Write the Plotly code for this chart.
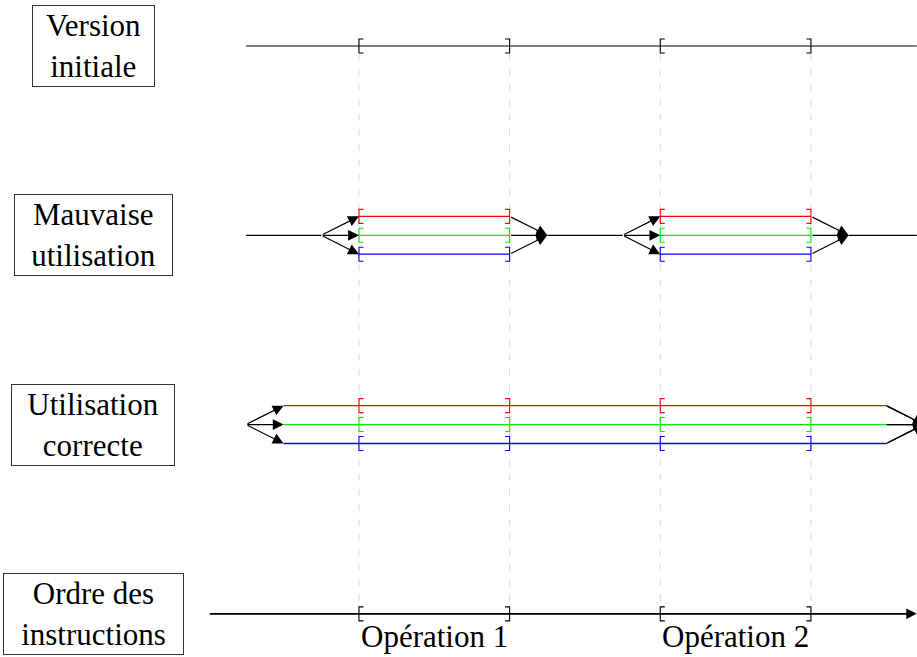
import plotly.graph_objects as go

# ---- data ----
row_labels = ["Version<br>initiale", "Mauvaise<br>utilisation",
              "Utilisation<br>correcte", "Ordre des<br>instructions"]
op_labels = ["Opération 1", "Opération 2"]
op_start = [2, 6]          # time units
op_end = [4, 8]
thread_colors = ["#ff0000", "#00ee00", "#0000ff"]
lane_offsets = [-0.1, 0.0, 0.1]

# ---- layout constants ----
X_RANGE = [-2.765, 9.408]
Y_RANGE = [3.228, -0.243]
LINE_START = 0.5
AXIS_START = 0.0
AXIS_END = 9.405
BR_H = 0.037
BR_W = 0.06
BOX_W = [121, 157, 162, 179]
BOX_H = 80
FONT = "Liberation Serif"

fig = go.Figure()
annotations = []


def seg(xs, ys, color="black", width=1.2, dash=None):
    fig.add_trace(go.Scatter(x=xs, y=ys, mode="lines", hoverinfo="skip",
                             line=dict(color=color, width=width, dash=dash),
                             showlegend=False))


def arrow(x0, y0, x1, y1, width=1.2, size=1.8):
    annotations.append(dict(x=x1, y=y1, ax=x0, ay=y0, xref="x", yref="y",
                            axref="x", ayref="y", text="", showarrow=True,
                            arrowhead=2, arrowsize=size, arrowwidth=width,
                            arrowcolor="black", standoff=0, startstandoff=0))


def bracket(x, y, side, color="black"):
    seg([x + side * BR_W, x, x, x + side * BR_W],
        [y - BR_H, y - BR_H, y + BR_H, y + BR_H], color=color, width=1.1)


def brackets(y, color="black"):
    for s, e in zip(op_start, op_end):
        bracket(s, y, 1, color)
        bracket(e, y, -1, color)


# dashed guides
for s, e in zip(op_start, op_end):
    for xv in (s, e):
        seg([xv, xv], [0 - BR_H, 3], color="#d9d9d9", width=1, dash="7px,8px")

# row 0 : version initiale
seg([LINE_START, AXIS_END], [0, 0])
brackets(0)

# row 1 : mauvaise utilisation
y = 1
seg([LINE_START, op_start[0] - 0.5], [y, y])
for i, (s, e) in enumerate(zip(op_start, op_end)):
    fork = s - 0.5
    join = e + 0.5
    for c, d in zip(thread_colors, lane_offsets):
        arrow(fork, y, s, y + d)
        seg([s, e], [y + d, y + d], color=c)
        arrow(e, y + d, join, y)
        bracket(s, y + d, 1, c)
        bracket(e, y + d, -1, c)
    nxt = op_start[i + 1] - 0.5 if i + 1 < len(op_start) else AXIS_END
    seg([join, nxt], [y, y])

# row 2 : utilisation correcte
y = 2
fork, spread, join, tip = 0.5, 1.0, 9.0, 9.5
for c, d in zip(thread_colors, lane_offsets):
    arrow(fork, y, spread, y + d)
    seg([join, tip], [y + d, y], color="black")
    arrow(join, y + d, tip, y)
for c, d in zip(thread_colors, lane_offsets):
    seg([spread, join], [y + d, y + d], color=c, width=1.3)
    for s, e in zip(op_start, op_end):
        bracket(s, y + d, 1, c)
        bracket(e, y + d, -1, c)

# row 3 : ordre des instructions
arrow(AXIS_START, 3, AXIS_END, 3, width=1.9, size=1.1)
brackets(3)
for lab, s, e in zip(op_labels, op_start, op_end):
    annotations.append(dict(x=(s + e) / 2, y=3, xref="x", yref="y", text=lab,
                            showarrow=False, yshift=-23,
                            font=dict(family=FONT, size=31, color="black")))

# row label boxes
for i, lab in enumerate(row_labels):
    annotations.append(dict(x=-1.524, y=i, xref="x", yref="y", text=lab,
                            showarrow=False, width=BOX_W[i], height=BOX_H,
                            align="center", valign="middle", borderpad=0,
                            bordercolor="#333333", borderwidth=1,
                            font=dict(family=FONT, size=31, color="black")))

fig.update_layout(
    width=917, height=657, margin=dict(l=0, r=0, t=0, b=0),
    paper_bgcolor="white", plot_bgcolor="white",
    xaxis=dict(range=X_RANGE, visible=False, fixedrange=True),
    yaxis=dict(range=Y_RANGE, visible=False, fixedrange=True),
    annotations=annotations, showlegend=False,
)

fig.write_html("out.html",
               config={"displayModeBar": False, "staticPlot": True},
               post_script="document.body.style.margin='0';"
                           "document.body.style.overflow='hidden';")
